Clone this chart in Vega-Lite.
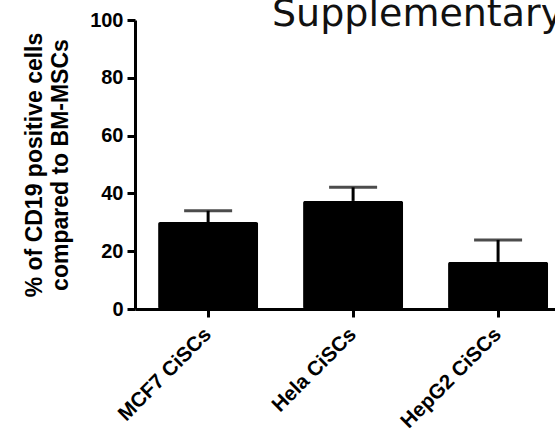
{
  "$schema": "https://vega.github.io/schema/vega-lite/v6.json",
  "autosize": "none",
  "padding": {"left": 135, "top": 20, "right": 0, "bottom": 125},
  "width": 420,
  "height": 289,
  "background": "white",
  "title": {
    "text": "Supplementary",
    "anchor": "start",
    "frame": "group",
    "orient": "top",
    "dx": 137,
    "dy": 54,
    "font": "DejaVu Sans",
    "fontSize": 38,
    "fontWeight": "normal",
    "color": "#111111",
    "baseline": "alphabetic",
    "offset": 0
  },
  "data": {
    "values": [
      {"group": "MCF7 CiSCs", "mean": 30.1, "upper": 34.0},
      {"group": "Hela CiSCs", "mean": 37.4, "upper": 42.1},
      {"group": "HepG2 CiSCs", "mean": 16.3, "upper": 23.9}
    ]
  },
  "config": {
    "view": {"stroke": null},
    "axis": {
      "domainColor": "black",
      "domainWidth": 3,
      "tickColor": "black",
      "tickWidth": 3,
      "tickSize": 8,
      "grid": false,
      "labelFont": "Liberation Sans",
      "labelFontWeight": "bold",
      "labelFontSize": 20,
      "labelColor": "black",
      "titleFont": "Liberation Sans",
      "titleFontWeight": "bold",
      "titleFontSize": 23,
      "titleColor": "black"
    }
  },
  "encoding": {
    "x": {
      "field": "group",
      "type": "nominal",
      "sort": null,
      "scale": {"paddingInner": 0.31, "paddingOuter": 0.1035, "align": 0.77},
      "axis": {"title": null, "labelAngle": -45, "labelAlign": "right", "labelBaseline": "middle", "labelPadding": 14, "labelFontSize": 20.5}
    }
  },
  "layer": [
    {
      "mark": {"type": "bar", "color": "black", "cornerRadius": 2},
      "encoding": {
        "y": {
          "field": "mean",
          "type": "quantitative",
          "scale": {"domain": [0, 100], "nice": false},
          "axis": {
            "values": [0, 20, 40, 60, 80, 100],
            "title": ["% of CD19 positive cells", "compared to BM-MSCs"],
            "titleLineHeight": 26,
            "titlePadding": 17,
            "labelPadding": 4
          }
        }
      }
    },
    {
      "mark": {"type": "rule", "color": "black", "strokeWidth": 3},
      "encoding": {
        "y": {"field": "mean", "type": "quantitative"},
        "y2": {"field": "upper"}
      }
    },
    {
      "mark": {"type": "tick", "color": "black", "thickness": 3, "size": 48},
      "encoding": {
        "y": {"field": "upper", "type": "quantitative"}
      }
    }
  ]
}
